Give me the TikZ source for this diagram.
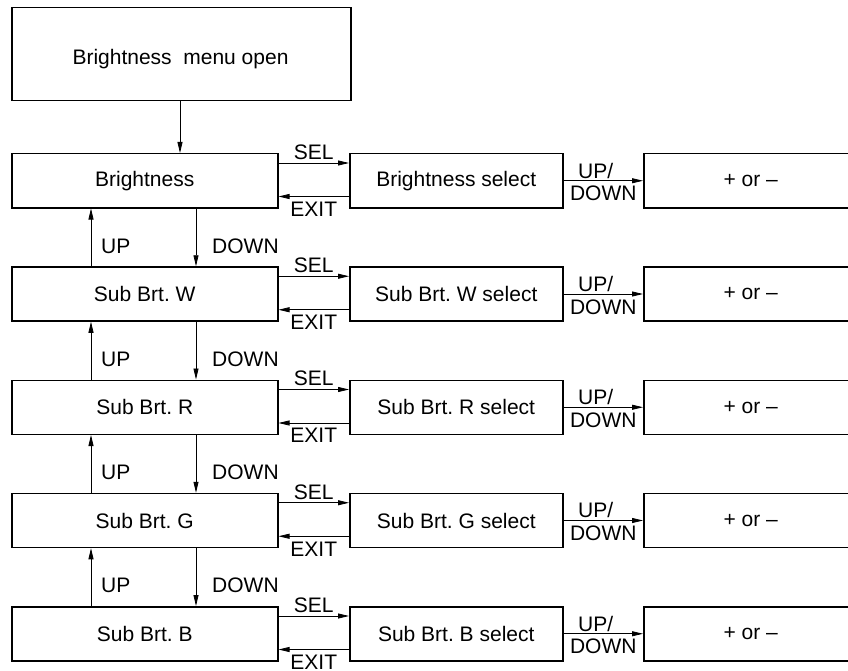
\documentclass[tikz,border=0pt]{standalone}
\usepackage{fontspec}
\setmainfont{Liberation Sans}
\usetikzlibrary{arrows.meta}
\begin{document}
\frenchspacing
\begin{tikzpicture}[x=1pt,y=-1pt,
  every node/.style={font=\fontsize{21}{25}\selectfont, inner sep=0pt},
  box/.style={draw, line width=1.5pt, rectangle, anchor=north west},
  conn/.style={line width=0.8pt, -{Triangle[length=11pt,width=5pt]}},
  lbl/.style={anchor=base west}]
\useasboundingbox (0,0) rectangle (848,671);
\clip (0,0) rectangle (848,671);
\fill[white] (0,0) rectangle (848,671);
\node[box, minimum width=339pt, minimum height=93pt] (top) at (11,7) {};
\node (toptext) at (180.5,59) {Brightness\ \ menu open};
\foreach \i/\t/\s in {0/Brightness/Brightness select,1/Sub Brt. W/Sub Brt. W select,2/Sub Brt. R/Sub Brt. R select,3/Sub Brt. G/Sub Brt. G select,4/Sub Brt. B/Sub Brt. B select}{
  \pgfmathsetmacro{\yy}{153+113.25*\i}
  \node[box, minimum width=266pt, minimum height=54pt] (m\i) at (11,\yy) {\t};
  \node[box, minimum width=213pt, minimum height=54pt] (s\i) at (349,\yy) {\s};
  \node[box, minimum width=220pt, minimum height=54pt] (p\i) at (643,\yy) {};
  \node (pt\i) at ([xshift=-3pt]p\i.center) {+ or –};
  \draw[conn] ([yshift=-10pt]m\i.north east) -- ([yshift=-10pt]s\i.north west)
     node[pos=0.5, above=3pt] (sel\i) {SEL};
  \draw[conn] ([yshift=12pt]s\i.south west) -- ([yshift=12pt]m\i.south east)
     node[pos=0.5, below=5pt] (exit\i) {EXIT};
  \draw[conn] (s\i.east) -- (p\i.west)
     node[pos=0.5, above=2pt] (up\i) {UP/\hphantom{N}}
     node[pos=0.5, below=5pt] (dn\i) {DOWN};
}
\draw[conn] (top.south -| 180,0) -- (m0.north -| 180,0);
\foreach \i/\j in {0/1,1/2,2/3,3/4}{
  \draw[conn] (m\j.north -| 91,0) -- (m\i.south -| 91,0);
  \draw[conn] (m\i.south -| 196,0) -- (m\j.north -| 196,0);
  \pgfmathsetmacro{\ly}{253+113.25*\i}
  \node[lbl] (ul\i) at (101,\ly) {UP};
  \node[lbl] (dl\i) at (212,\ly) {DOWN};
}
\end{tikzpicture}
\end{document}
